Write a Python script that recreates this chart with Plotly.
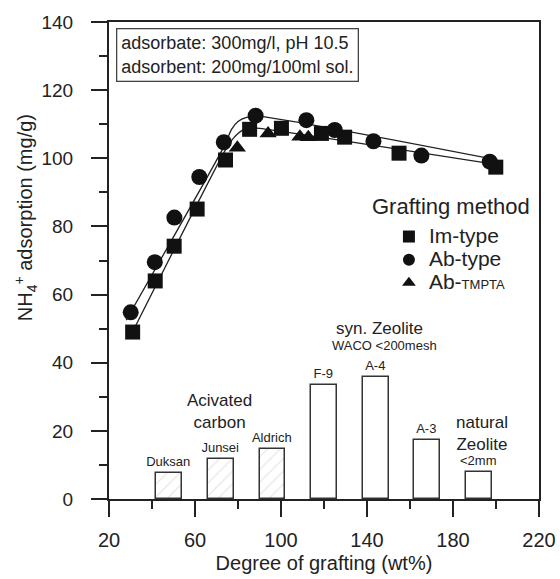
import plotly.graph_objects as go

# ---- data ----
im_x = [31.0, 41.5, 50.3, 61.0, 74.2, 85.4, 100.2, 118.8, 129.6, 154.9, 199.9]
im_y = [49.0, 64.0, 74.2, 85.1, 99.5, 108.5, 108.8, 107.3, 106.2, 101.5, 97.4]

ab_x = [30.1, 41.3, 50.4, 62.0, 73.4, 88.2, 111.8, 125.0, 143.0, 165.3, 197.1]
ab_y = [54.8, 69.5, 82.6, 94.5, 104.7, 112.5, 111.2, 108.3, 105.0, 100.8, 99.0]

tm_x = [79.7, 94.0, 108.8, 112.7]
tm_y = [103.1, 107.3, 106.3, 106.2]

# fitted curves
fit_ab_x = [28.0, 73.5, 77.0, 80.0, 84.0, 89.0, 200.0]
fit_ab_y = [52.5, 103.5, 108.5, 110.8, 112.0, 112.4, 99.6]
fit_im_x = [31.0, 74.1, 78.0, 82.0, 86.0, 90.0, 200.0]
fit_im_y = [49.1, 102.4, 106.0, 108.2, 108.9, 108.8, 98.2]

bar_x = [48, 72, 96, 120, 144, 168, 192]
bar_y = [7.5, 11.6, 14.7, 33.4, 35.7, 17.3, 7.9]
bar_labels = ["Duksan", "Junsei", "Aldrich", "F-9", "A-4", "A-3", "&lt;2mm"]
bar_hatch = ["/", "/", "/", "", "", "", ""]

x_ticks = [20, 60, 100, 140, 180, 220]
y_ticks = [0, 20, 40, 60, 80, 100, 120, 140]

legend_names = ["Im-type", "Ab-type", "Ab-<span style='font-size:13px'>TMPTA</span>"]

FONT = "Liberation Sans, Arial, sans-serif"
INK = "#222222"
LEG = "<span style='font-size:21px'>%s</span>"

fig = go.Figure()

fig.add_trace(go.Bar(
    x=bar_x, y=bar_y, width=12,
    text=bar_labels, textposition="outside", constraintext="none",
    textfont=dict(size=13, color=INK, family=FONT),
    marker=dict(color="white", line=dict(color="#333333", width=1.5),
                pattern=dict(shape=bar_hatch, fgcolor="#c4c4c4", size=9, solidity=0.12)),
    showlegend=False, cliponaxis=False,
))

fig.add_trace(go.Scatter(x=fit_ab_x, y=fit_ab_y, mode="lines", line=dict(color=INK, width=1.3, shape="spline", smoothing=0.6),
                         showlegend=False, hoverinfo="skip"))
fig.add_trace(go.Scatter(x=fit_im_x, y=fit_im_y, mode="lines", line=dict(color=INK, width=1.3, shape="spline", smoothing=0.6),
                         showlegend=False, hoverinfo="skip"))

fig.add_trace(go.Scatter(x=im_x, y=im_y, mode="markers", name=LEG % legend_names[0],
                         marker=dict(symbol="square", size=15, color="#111111")))
fig.add_trace(go.Scatter(x=ab_x, y=ab_y, mode="markers", name=LEG % legend_names[1],
                         marker=dict(symbol="circle", size=16, color="#111111")))
fig.add_trace(go.Scatter(x=tm_x, y=tm_y, mode="markers", name=LEG % legend_names[2],
                         marker=dict(symbol="triangle-up", size=15, color="#111111")))

axis_common = dict(showline=True, linecolor=INK, linewidth=2, mirror=True, ticks="outside",
                   tickcolor=INK, tickwidth=2, ticklen=16, showgrid=False, zeroline=False, automargin=False)

fig.update_xaxes(range=[20, 220], tickvals=x_ticks, tickfont=dict(size=20, color=INK, family=FONT),
                 ticklabelstandoff=6,
                 minor=dict(dtick=20, tick0=20, ticks="outside", ticklen=8, tickcolor=INK, tickwidth=2),
                 title=dict(text="Degree of grafting (wt%)", font=dict(size=20, color=INK, family=FONT), standoff=6),
                 **axis_common)
fig.update_yaxes(range=[0, 140], tickvals=y_ticks, tickfont=dict(size=19, color=INK, family=FONT),
                 ticklabelstandoff=14,
                 minor=dict(dtick=10, tick0=0, ticks="outside", ticklen=8, tickcolor=INK, tickwidth=2),
                 **axis_common)

annotations = [
    dict(text="NH<sub>4</sub><sup>+</sup> adsorption (mg/g)", xref="paper", yref="paper",
         x=-0.195, y=0.589, xanchor="center", yanchor="middle", textangle=-90, showarrow=False,
         font=dict(size=20, color=INK, family=FONT)),
    dict(text="adsorbate: 300mg/l, pH 10.5<br>adsorbent: 200mg/100ml sol.", xref="paper", yref="paper",
         x=0.0156, y=0.987, xanchor="left", yanchor="top", align="left", showarrow=False,
         bordercolor="#444444", borderwidth=1.3, borderpad=4, font=dict(size=18, color=INK, family=FONT)),
    dict(text="Grafting method", xref="paper", yref="paper", x=0.796, y=0.614, xanchor="center", yanchor="middle",
         showarrow=False, font=dict(size=22, color=INK, family=FONT)),
    dict(text="Acivated<br>carbon", x=71.2, y=25.6, showarrow=False, font=dict(size=17, color=INK, family=FONT)),
    dict(text="syn. Zeolite", x=145.9, y=50.1, showarrow=False, font=dict(size=17, color=INK, family=FONT)),
    dict(text="WACO &lt;200mesh", x=148.0, y=45.2, showarrow=False, font=dict(size=13, color=INK, family=FONT)),
    dict(text="natural<br>Zeolite", x=193.5, y=19.3, showarrow=False, font=dict(size=17, color=INK, family=FONT)),
]

fig.update_layout(
    width=560, height=579,
    margin=dict(l=109, r=21, t=22, b=80),
    paper_bgcolor="white", plot_bgcolor="white",
    font=dict(family=FONT, color=INK),
    annotations=annotations,
    legend=dict(x=0.651, y=0.585, xanchor="left", yanchor="top", bgcolor="rgba(0,0,0,0)",
                font=dict(size=15.5, color=INK, family=FONT), tracegroupgap=0, itemsizing="constant"),
    bargap=0,
)

fig.write_html("out.html")
